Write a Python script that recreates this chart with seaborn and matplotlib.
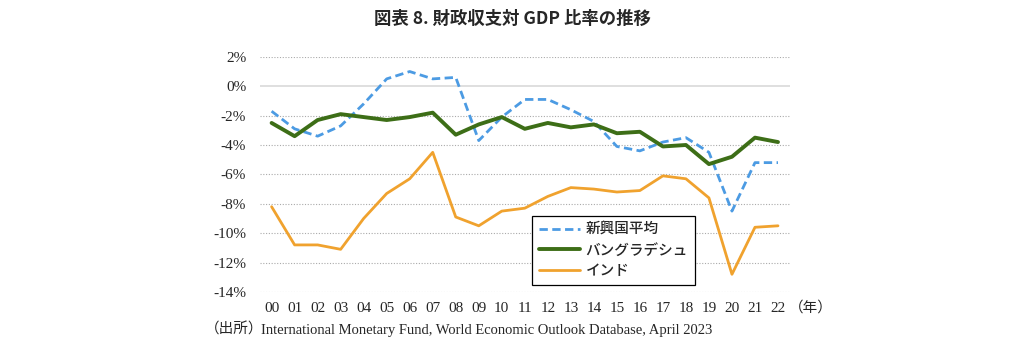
import matplotlib
matplotlib.use("Agg")
import matplotlib.pyplot as plt
import seaborn as sns
import pandas as pd
from matplotlib.ticker import FuncFormatter

years = ["00", "01", "02", "03", "04", "05", "06", "07", "08", "09", "10", "11",
         "12", "13", "14", "15", "16", "17", "18", "19", "20", "21", "22"]
emerging = [-1.7, -2.9, -3.4, -2.7, -1.2, 0.5, 1.0, 0.5, 0.6, -3.7, -2.1, -0.9,
            -0.9, -1.6, -2.4, -4.1, -4.4, -3.8, -3.5, -4.5, -8.5, -5.2, -5.2]
bangladesh = [-2.5, -3.4, -2.3, -1.9, -2.1, -2.3, -2.1, -1.8, -3.3, -2.6, -2.1, -2.9,
              -2.5, -2.8, -2.6, -3.2, -3.1, -4.1, -4.0, -5.3, -4.8, -3.5, -3.8]
india = [-8.2, -10.8, -10.8, -11.1, -9.0, -7.3, -6.3, -4.5, -8.9, -9.5, -8.5, -8.3,
         -7.5, -6.9, -7.0, -7.2, -7.1, -6.1, -6.3, -7.6, -12.8, -9.6, -9.5]
series_names = ["新興国平均", "バングラデシュ", "インド"]

sns.set_theme(style="white")
plt.rcParams['font.family'] = ['Noto Sans CJK JP', 'DejaVu Sans']

df = pd.DataFrame({"x": range(len(years)), "新興国平均": emerging,
                   "バングラデシュ": bangladesh, "インド": india})

fig = plt.figure(figsize=(10.24, 3.53), dpi=100)
ax = fig.add_axes([0.254, 0.173, 0.517, 0.666])

styles = {
    "新興国平均": dict(color="#4c9be3", linestyle=(0, (3, 1.6)), linewidth=2.0),
    "バングラデシュ": dict(color="#3d6e17", linestyle="-", linewidth=2.8),
    "インド": dict(color="#f0a22e", linestyle="-", linewidth=2.0),
}
for name in series_names:
    sns.lineplot(data=df, x="x", y=name, ax=ax, label=name, **styles[name])

ax.set_xlim(-0.5, len(years) - 0.5)
ax.set_ylim(-14, 2)
ax.set_yticks(range(-14, 3, 2))
ax.yaxis.set_major_formatter(FuncFormatter(lambda v, p: f"{v:.0f}%"))
ax.set_xticks(range(len(years)))
ax.set_xticklabels(years)
for lab in ax.get_xticklabels() + ax.get_yticklabels():
    lab.set_family(['Liberation Serif'])
    lab.set_fontsize(11)
ax.tick_params(axis='x', length=0, pad=7)
ax.tick_params(axis='y', length=0, pad=10)
ax.set_xlabel("")
ax.set_ylabel("")

for v in range(-14, 3, 2):
    if v == 0:
        ax.axhline(v, color="#d9d9d9", linewidth=1.2, zorder=0)
    else:
        ax.axhline(v, color="#aaaaaa", linewidth=0.8, linestyle=(0, (1, 1.5)), zorder=0)
sns.despine(ax=ax, left=True, bottom=True)

leg = ax.legend(loc="upper left", bbox_to_anchor=(0.513, 0.325), frameon=True,
                fancybox=False, edgecolor="black", framealpha=1,
                prop={'size': 10.5, 'weight': 'medium'},
                handlelength=2.8, borderpad=0.5, labelspacing=0.45, handletextpad=0.4,
                borderaxespad=0)
leg.get_frame().set_linewidth(0.9)

fig.text(0.5, 0.945, "図表 8. 財政収支対 GDP 比率の推移", ha="center", va="center",
         fontsize=12.5, fontweight="bold")
fig.text(0.792, 0.128, "（年）", ha="center", va="center", fontsize=10.5,
         family=['Noto Sans CJK JP'])
fig.text(0.2, 0.065, "（出所）", ha="left", va="center", fontsize=10.5,
         family=['Noto Sans CJK JP'])
fig.text(0.255, 0.065, "International Monetary Fund, World Economic Outlook Database, April 2023",
         ha="left", va="center", fontsize=10.5, family=['Liberation Serif'])

fig.savefig("out.png", dpi=100)
